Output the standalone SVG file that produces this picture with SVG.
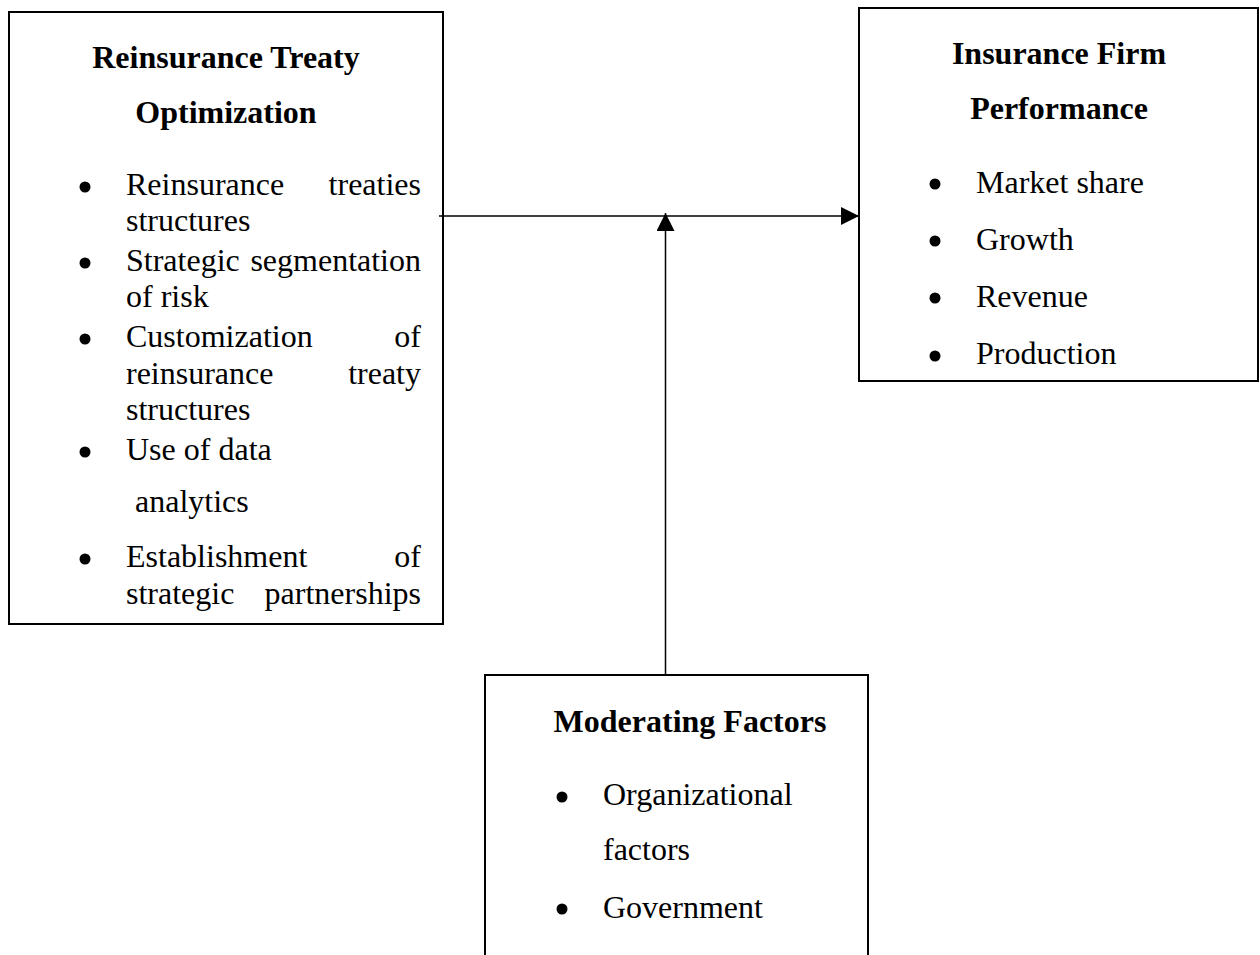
<svg xmlns="http://www.w3.org/2000/svg" width="1260" height="955" viewBox="0 0 1260 955">
  <style>
    .box { fill: #ffffff; stroke: #000000; stroke-width: 2; }
    .head { font-family: "Liberation Serif", "Times New Roman", serif; font-size: 32px; font-weight: bold; fill: #000000; text-anchor: middle; }
    .item { font-family: "Liberation Serif", "Times New Roman", serif; font-size: 32px; fill: #000000; }
    .end { text-anchor: end; }
    .dot { fill: #000000; }
    .link { stroke: #000000; stroke-width: 1.5; fill: none; }
  </style>
  <defs>
    <marker id="arrowhead" markerUnits="userSpaceOnUse" markerWidth="18" markerHeight="18" viewBox="0 0 16 16" refX="16" refY="8" orient="auto">
      <path d="M0,0 L16,8 L0,16 Z" fill="#000000"/>
    </marker>
  </defs>

  <rect width="1260" height="955" fill="#ffffff"/>

  <!-- Independent variable -->
  <g id="node-treaty">
    <rect class="box" x="9" y="12" width="434" height="612"/>
    <text class="head" x="226" y="68">Reinsurance Treaty</text>
    <text class="head" x="226" y="123">Optimization</text>
    <circle class="dot" cx="85" cy="187" r="5.5"/>
    <text class="item" x="126" y="195">Reinsurance</text>
    <text class="item end" x="421" y="195">treaties</text>
    <text class="item" x="126" y="231">structures</text>
    <circle class="dot" cx="85" cy="263" r="5.5"/>
    <text class="item" x="126" y="271">Strategic</text>
    <text class="item end" x="421" y="271">segmentation</text>
    <text class="item" x="126" y="307">of risk</text>
    <circle class="dot" cx="85" cy="339" r="5.5"/>
    <text class="item" x="126" y="347">Customization</text>
    <text class="item end" x="421" y="347">of</text>
    <text class="item" x="126" y="384">reinsurance</text>
    <text class="item end" x="421" y="384">treaty</text>
    <text class="item" x="126" y="420">structures</text>
    <circle class="dot" cx="85" cy="452" r="5.5"/>
    <text class="item" x="126" y="460">Use of data</text>
    <text class="item" x="135" y="512">analytics</text>
    <circle class="dot" cx="85" cy="559" r="5.5"/>
    <text class="item" x="126" y="567">Establishment</text>
    <text class="item end" x="421" y="567">of</text>
    <text class="item" x="126" y="604">strategic</text>
    <text class="item end" x="421" y="604">partnerships</text>
  </g>

  <!-- Dependent variable -->
  <g id="node-performance">
    <rect class="box" x="859" y="8" width="399" height="373"/>
    <text class="head" x="1059" y="64">Insurance Firm</text>
    <text class="head" x="1059" y="119">Performance</text>
    <circle class="dot" cx="935" cy="184" r="5.5"/>
    <text class="item" x="976" y="193">Market share</text>
    <circle class="dot" cx="935" cy="241" r="5.5"/>
    <text class="item" x="976" y="250">Growth</text>
    <circle class="dot" cx="935" cy="298" r="5.5"/>
    <text class="item" x="976" y="307">Revenue</text>
    <circle class="dot" cx="935" cy="356" r="5.5"/>
    <text class="item" x="976" y="364">Production</text>
  </g>

  <!-- Moderator -->
  <g id="node-moderating">
    <rect class="box" x="485" y="675" width="383" height="320"/>
    <text class="head" x="690" y="732">Moderating Factors</text>
    <circle class="dot" cx="562" cy="797" r="5.5"/>
    <text class="item" x="603" y="805">Organizational</text>
    <text class="item" x="603" y="860">factors</text>
    <circle class="dot" cx="562" cy="909" r="5.5"/>
    <text class="item" x="603" y="918">Government</text>
  </g>

  <!-- Connectors -->
  <g id="connectors">
    <line class="link" x1="439" y1="216" x2="859" y2="216" marker-end="url(#arrowhead)"/>
    <line class="link" x1="665.5" y1="675" x2="665.5" y2="213" marker-end="url(#arrowhead)"/>
  </g>
</svg>
